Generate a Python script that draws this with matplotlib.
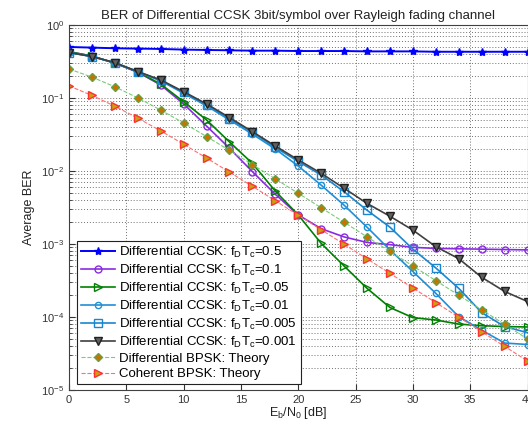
import numpy as np
import matplotlib
matplotlib.use('Agg')
import matplotlib.pyplot as plt
from matplotlib.ticker import LogLocator, NullFormatter

plt.rcParams['font.family'] = ['Liberation Sans', 'DejaVu Sans']
plt.rcParams['mathtext.fontset'] = 'custom'
plt.rcParams['mathtext.rm'] = 'Liberation Sans'
plt.rcParams['mathtext.it'] = 'Liberation Sans'
plt.rcParams['mathtext.bf'] = 'Liberation Sans'

# %% data

ebn0 = [0, 2, 4, 6, 8, 10, 12, 14, 16, 18, 20, 22, 24, 26, 28, 30, 32, 34, 36, 38, 40]

ber_05 = [0.50, 0.49, 0.48, 0.475, 0.47, 0.46, 0.455, 0.45, 0.445, 0.445, 0.44,
          0.44, 0.44, 0.435, 0.435, 0.435, 0.43, 0.43, 0.43, 0.43, 0.43]
ber_01 = [0.43, 0.376, 0.30, 0.225, 0.151, 0.083, 0.0413, 0.0205, 0.0098, 0.0048,
          0.0025, 0.00162, 0.00125, 0.00105, 0.00098, 0.00090, 0.00087, 0.00086,
          0.00085, 0.00084, 0.00083]
ber_005 = [0.43, 0.376, 0.30, 0.228, 0.155, 0.089, 0.050, 0.025, 0.0127, 0.0053,
           0.0025, 0.00102, 0.00050, 0.000247, 0.000135, 9.8e-5, 9.1e-5, 8.0e-5,
           7.6e-5, 7.4e-5, 7.3e-5]
ber_001 = [0.42, 0.37, 0.303, 0.228, 0.172, 0.116, 0.078, 0.050, 0.032, 0.020,
           0.0117, 0.0064, 0.0034, 0.0017, 0.00083, 0.00042, 0.000211, 0.000101,
           6.6e-5, 4.4e-5, 4.2e-5]
ber_0005 = [0.42, 0.37, 0.304, 0.23, 0.174, 0.12, 0.081, 0.052, 0.034, 0.021,
            0.0135, 0.0088, 0.0052, 0.0029, 0.0017, 0.00085, 0.00047, 0.000247,
            0.000115, 7.4e-5, 6.1e-5]
ber_0001 = [0.42, 0.37, 0.305, 0.23, 0.177, 0.122, 0.083, 0.054, 0.0346, 0.022,
            0.0142, 0.0093, 0.0058, 0.0036, 0.0024, 0.00155, 0.00092, 0.00063,
            0.00035, 0.000224, 0.000163]
dbpsk_theory = [0.25, 0.1934, 0.1424, 0.1004, 0.0684, 0.04545, 0.02968, 0.01914,
                0.01225, 0.00780, 0.00495, 0.003135, 0.001983, 0.001253, 0.000791,
                0.0004995, 0.0003153, 0.000199, 0.0001256, 7.92e-5, 5.0e-5]
bpsk_theory = [0.1464, 0.1085, 0.0771, 0.0530, 0.03546, 0.02327, 0.01507, 0.00966,
               0.00617, 0.003916, 0.002481, 0.001570, 0.0009923, 0.0006266,
               0.0003957, 0.0002498, 0.0001577, 9.95e-5, 6.28e-5, 3.96e-5, 2.5e-5]

fd_labels = ['0.5', '0.1', '0.05', '0.01', '0.005', '0.001']

# %% plot

fig = plt.figure(figsize=(5.28, 4.22), dpi=100)
ax = fig.add_axes([69/528, 32/422, 458.5/528, 365/422])

sim = [ber_05, ber_01, ber_005, ber_001, ber_0005, ber_0001]
colors = ['#0000ff', '#8a2be2', '#008000', '#1f8fd6', '#1a86d0', '#404040']
markers = ['*', 'o', '>', 'o', 's', 'v']
msizes = [6, 5, 6, 4.5, 6, 6]
for i in range(6):
    mfc = colors[i] if markers[i] in ('*', 'v') else 'none'
    if markers[i] == 'v':
        mfc = '#606060'
    ax.semilogy(ebn0, sim[i], '-', color=colors[i], marker=markers[i],
                ms=msizes[i], mfc=mfc, mec=colors[i] if i != 5 else '#202020',
                lw=1.4 if i == 0 else 1.2, mew=1.0,
                label='Differential CCSK: f$_\\mathregular{D}$T$_\\mathregular{c}$=' + fd_labels[i])

ax.semilogy(ebn0, dbpsk_theory, '--', color='#77cc77', lw=0.8, marker='D', ms=4,
            mfc='#cc7000', mec='#66a040', label='Differential BPSK: Theory')
ax.semilogy(ebn0, bpsk_theory, '--', color='#ff7070', lw=0.8, marker='>', ms=5.5,
            mfc='#c8a010', mec='#ff3030', label='Coherent BPSK: Theory')

ax.set_xlim(0, 40)
ax.set_ylim(1e-5, 1)
ax.set_xticks(range(0, 41, 5))
ax.yaxis.set_major_locator(LogLocator(base=10, numticks=10))
ax.yaxis.set_minor_locator(LogLocator(base=10, subs=np.arange(2, 10), numticks=10))
ax.yaxis.set_minor_formatter(NullFormatter())
ax.grid(True, which='major', ls=(0, (1, 2)), color='#707070', lw=0.7)
ax.grid(True, which='minor', axis='y', ls=(0, (1, 2)), color='#707070', lw=0.7)
ax.tick_params(direction='in', labelsize=8, colors='#333333', which='both')
ax.tick_params(which='major', length=4)
ax.tick_params(which='minor', length=2)
for s in ax.spines.values():
    s.set_color('#404040')
    s.set_linewidth(0.8)

ax.set_title('BER of Differential CCSK 3bit/symbol over Rayleigh fading channel',
             fontsize=9.5, color='#222222', pad=4)
ax.set_xlabel('E$_\\mathregular{b}$/N$_\\mathregular{0}$ [dB]', fontsize=9,
              color='#222222')
ax.xaxis.set_label_coords(0.5, -0.062, transform=ax.transAxes)
ax.xaxis.label.set_verticalalignment('center')
ax.set_ylabel('Average BER', fontsize=9, color='#222222', labelpad=4)

leg = ax.legend(loc='lower left', bbox_to_anchor=(0.0175, 0.016), borderaxespad=0,
                fontsize=9.5, fancybox=False, framealpha=1, edgecolor='#222222',
                handlelength=2.6, labelspacing=0.22, borderpad=0.3, handletextpad=0.3)
leg.get_frame().set_linewidth(0.8)

fig.savefig('out.png', dpi=100)
